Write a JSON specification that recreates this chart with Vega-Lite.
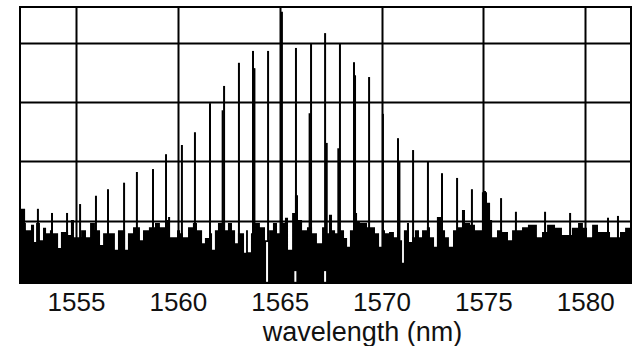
{
  "$schema": "https://vega.github.io/schema/vega-lite/v6.json",
  "width": 611,
  "height": 276,
  "autosize": "none",
  "padding": {"left": 20, "top": 7, "right": 4, "bottom": 63},
  "background": "white",
  "config": {
    "font": "Liberation Sans",
    "view": {"stroke": "black", "strokeWidth": 2}
  },
  "datasets": {
    "noise": [
      {"nm": 1552.25, "db": -38.0}, {"nm": 1552.50, "db": -40.4}, {"nm": 1552.54, "db": -41.6}, {"nm": 1552.79, "db": -40.7},
      {"nm": 1552.94, "db": -43.6}, {"nm": 1553.04, "db": -40.4}, {"nm": 1553.23, "db": -43.3}, {"nm": 1553.38, "db": -41.2},
      {"nm": 1553.53, "db": -42.1}, {"nm": 1553.72, "db": -41.6}, {"nm": 1553.87, "db": -42.1}, {"nm": 1554.12, "db": -44.6},
      {"nm": 1554.26, "db": -41.9}, {"nm": 1554.61, "db": -42.4}, {"nm": 1554.75, "db": -39.9}, {"nm": 1554.90, "db": -42.8},
      {"nm": 1555.25, "db": -41.6}, {"nm": 1555.49, "db": -42.8}, {"nm": 1555.69, "db": -40.4}, {"nm": 1555.93, "db": -41.6},
      {"nm": 1556.18, "db": -44.1}, {"nm": 1556.33, "db": -42.1}, {"nm": 1556.91, "db": -44.9}, {"nm": 1557.06, "db": -41.6},
      {"nm": 1557.41, "db": -44.9}, {"nm": 1557.55, "db": -42.1}, {"nm": 1557.80, "db": -41.1}, {"nm": 1558.14, "db": -43.3},
      {"nm": 1558.29, "db": -41.6}, {"nm": 1558.58, "db": -41.1}, {"nm": 1558.88, "db": -40.4}, {"nm": 1559.12, "db": -41.1},
      {"nm": 1559.37, "db": -39.9}, {"nm": 1559.52, "db": -39.4}, {"nm": 1559.62, "db": -42.8}, {"nm": 1559.96, "db": -41.6},
      {"nm": 1560.11, "db": -42.1}, {"nm": 1560.25, "db": -42.8}, {"nm": 1560.50, "db": -41.1}, {"nm": 1560.74, "db": -40.4},
      {"nm": 1560.94, "db": -41.6}, {"nm": 1561.19, "db": -43.8}, {"nm": 1561.33, "db": -42.9}, {"nm": 1561.58, "db": -42.1},
      {"nm": 1561.68, "db": -44.9}, {"nm": 1561.82, "db": -41.6}, {"nm": 1561.97, "db": -40.4}, {"nm": 1562.32, "db": -41.6},
      {"nm": 1562.46, "db": -40.4}, {"nm": 1562.66, "db": -41.6}, {"nm": 1562.81, "db": -43.8}, {"nm": 1562.95, "db": -42.1},
      {"nm": 1563.25, "db": -45.4}, {"nm": 1563.35, "db": -41.6}, {"nm": 1563.44, "db": -45.3}, {"nm": 1563.59, "db": -42.1},
      {"nm": 1563.79, "db": -40.4}, {"nm": 1564.03, "db": -41.1}, {"nm": 1564.28, "db": -43.3}, {"nm": 1564.48, "db": -41.6},
      {"nm": 1564.67, "db": -40.4}, {"nm": 1564.87, "db": -42.1}, {"nm": 1565.02, "db": -40.4}, {"nm": 1565.26, "db": -39.5},
      {"nm": 1565.41, "db": -44.9}, {"nm": 1565.61, "db": -38.7}, {"nm": 1565.75, "db": -35.7}, {"nm": 1565.90, "db": -39.9},
      {"nm": 1566.10, "db": -41.6}, {"nm": 1566.34, "db": -41.1}, {"nm": 1566.59, "db": -42.1}, {"nm": 1566.83, "db": -43.8},
      {"nm": 1567.08, "db": -41.1}, {"nm": 1567.23, "db": -42.1}, {"nm": 1567.42, "db": -39.0}, {"nm": 1567.57, "db": -41.6},
      {"nm": 1567.72, "db": -42.1}, {"nm": 1567.86, "db": -41.1}, {"nm": 1567.96, "db": -41.6}, {"nm": 1568.16, "db": -42.9},
      {"nm": 1568.31, "db": -44.4}, {"nm": 1568.45, "db": -41.6}, {"nm": 1568.60, "db": -38.7}, {"nm": 1568.80, "db": -40.2},
      {"nm": 1568.94, "db": -40.4}, {"nm": 1569.29, "db": -41.1}, {"nm": 1569.68, "db": -42.1}, {"nm": 1569.88, "db": -44.4},
      {"nm": 1570.02, "db": -41.6}, {"nm": 1570.17, "db": -42.1}, {"nm": 1570.37, "db": -41.9}, {"nm": 1570.61, "db": -42.8},
      {"nm": 1570.76, "db": -39.9}, {"nm": 1570.86, "db": -43.3}, {"nm": 1571.01, "db": -47.1}, {"nm": 1571.10, "db": -41.6},
      {"nm": 1571.25, "db": -40.4}, {"nm": 1571.35, "db": -43.6}, {"nm": 1571.50, "db": -42.8}, {"nm": 1571.64, "db": -41.6},
      {"nm": 1571.84, "db": -42.8}, {"nm": 1571.99, "db": -41.6}, {"nm": 1572.23, "db": -41.1}, {"nm": 1572.38, "db": -42.8},
      {"nm": 1572.58, "db": -44.4}, {"nm": 1572.72, "db": -39.4}, {"nm": 1572.97, "db": -41.6}, {"nm": 1573.12, "db": -42.8},
      {"nm": 1573.31, "db": -44.4}, {"nm": 1573.51, "db": -41.6}, {"nm": 1573.71, "db": -41.1}, {"nm": 1573.95, "db": -38.2},
      {"nm": 1574.10, "db": -40.4}, {"nm": 1574.35, "db": -40.7}, {"nm": 1574.59, "db": -41.6}, {"nm": 1574.93, "db": -35.2},
      {"nm": 1575.18, "db": -37.0}, {"nm": 1575.33, "db": -39.9}, {"nm": 1575.43, "db": -42.8}, {"nm": 1575.67, "db": -41.6},
      {"nm": 1575.92, "db": -41.9}, {"nm": 1576.21, "db": -43.3}, {"nm": 1576.41, "db": -41.6}, {"nm": 1576.90, "db": -41.1},
      {"nm": 1577.19, "db": -40.7}, {"nm": 1577.63, "db": -42.8}, {"nm": 1577.88, "db": -41.9}, {"nm": 1578.13, "db": -40.7},
      {"nm": 1578.52, "db": -41.2}, {"nm": 1578.86, "db": -42.4}, {"nm": 1579.35, "db": -41.2}, {"nm": 1579.65, "db": -40.4},
      {"nm": 1579.89, "db": -41.2}, {"nm": 1580.09, "db": -42.8}, {"nm": 1580.34, "db": -40.7}, {"nm": 1580.63, "db": -41.9},
      {"nm": 1581.22, "db": -42.8}, {"nm": 1581.71, "db": -41.9}, {"nm": 1581.96, "db": -41.2}, {"nm": 1582.25, "db": -41.2}
    ],
    "peaks": [
      {"nm": 1553.13, "db": -38.0}, {"nm": 1553.82, "db": -38.7}, {"nm": 1554.56, "db": -38.7}, {"nm": 1555.20, "db": -37.2},
      {"nm": 1555.98, "db": -35.8}, {"nm": 1556.57, "db": -34.7}, {"nm": 1557.36, "db": -33.6}, {"nm": 1557.99, "db": -31.8},
      {"nm": 1558.78, "db": -31.3}, {"nm": 1559.42, "db": -28.8}, {"nm": 1560.20, "db": -27.25}, {"nm": 1560.84, "db": -25.1},
      {"nm": 1561.58, "db": -20.2}, {"nm": 1562.20, "db": -21.4}, {"nm": 1562.27, "db": -17.3}, {"nm": 1563.00, "db": -13.4},
      {"nm": 1563.69, "db": -11.4}, {"nm": 1563.76, "db": -14.3}, {"nm": 1564.43, "db": -11.4}, {"nm": 1565.11, "db": -4.8},
      {"nm": 1565.80, "db": -10.9}, {"nm": 1566.47, "db": -21.9}, {"nm": 1566.54, "db": -10.1}, {"nm": 1567.23, "db": -8.4},
      {"nm": 1567.31, "db": -26.9}, {"nm": 1567.88, "db": -27.8}, {"nm": 1567.96, "db": -10.1}, {"nm": 1568.65, "db": -13.3},
      {"nm": 1568.70, "db": -15.5}, {"nm": 1569.39, "db": -15.8}, {"nm": 1570.07, "db": -22.0}, {"nm": 1570.81, "db": -26.1},
      {"nm": 1570.88, "db": -30.1}, {"nm": 1571.55, "db": -28.1}, {"nm": 1572.28, "db": -30.1}, {"nm": 1572.97, "db": -32.0},
      {"nm": 1573.71, "db": -32.8}, {"nm": 1574.44, "db": -34.7}, {"nm": 1575.08, "db": -35.0}, {"nm": 1575.87, "db": -36.2},
      {"nm": 1576.60, "db": -38.5}, {"nm": 1578.03, "db": -38.5}, {"nm": 1579.26, "db": -38.7}, {"nm": 1581.12, "db": -39.5},
      {"nm": 1581.61, "db": -39.2}
    ],
    "markers": [
      {"nm": 1564.38, "top": -43.6, "bottom": -50.3},
      {"nm": 1565.77, "top": -48.5, "bottom": -50.3},
      {"nm": 1567.23, "top": -48.5, "bottom": -50.3}
    ]
  },
  "encoding": {
    "x": {
      "field": "nm",
      "type": "quantitative",
      "scale": {"domain": [1552.25, 1582.25], "nice": false, "zero": false},
      "axis": {
        "values": [1555, 1560, 1565, 1570, 1575, 1580],
        "grid": true,
        "gridColor": "black",
        "gridWidth": 2,
        "gridOpacity": 1,
        "ticks": false,
        "tickSize": 0,
        "domain": false,
        "labelFontSize": 26,
        "labelColor": "#111111",
        "labelBaseline": "alphabetic",
        "labelPadding": 27,
        "labelDx": 12.5,
        "labelFlush": false,
        "labelOverlap": false,
        "format": "d",
        "title": "wavelength (nm)",
        "titleFontSize": 27,
        "titleFontWeight": "normal",
        "titleColor": "#111111",
        "titleX": 342,
        "titleY": 57,
        "titleAlign": "center",
        "titleBaseline": "alphabetic"
      }
    },
    "y": {
      "type": "quantitative",
      "scale": {"domain": [-50.5, -4], "nice": false, "zero": false},
      "axis": {
        "values": [-40, -30, -20, -10],
        "grid": true,
        "gridColor": "black",
        "gridWidth": 2,
        "gridOpacity": 1,
        "labels": false,
        "ticks": false,
        "tickSize": 0,
        "domain": false,
        "title": null
      }
    }
  },
  "layer": [
    {
      "data": {"name": "noise"},
      "mark": {"type": "area", "interpolate": "step-after", "color": "black", "clip": true},
      "encoding": {
        "y": {"field": "db"},
        "y2": {"datum": -50.5}
      }
    },
    {
      "data": {"name": "peaks"},
      "mark": {"type": "rule", "color": "black", "strokeWidth": 2},
      "encoding": {
        "y": {"field": "db"},
        "y2": {"datum": -50.5}
      }
    },
    {
      "data": {"name": "markers"},
      "mark": {"type": "rule", "color": "white", "strokeWidth": 2},
      "encoding": {
        "y": {"field": "top"},
        "y2": {"field": "bottom"}
      }
    }
  ]
}
